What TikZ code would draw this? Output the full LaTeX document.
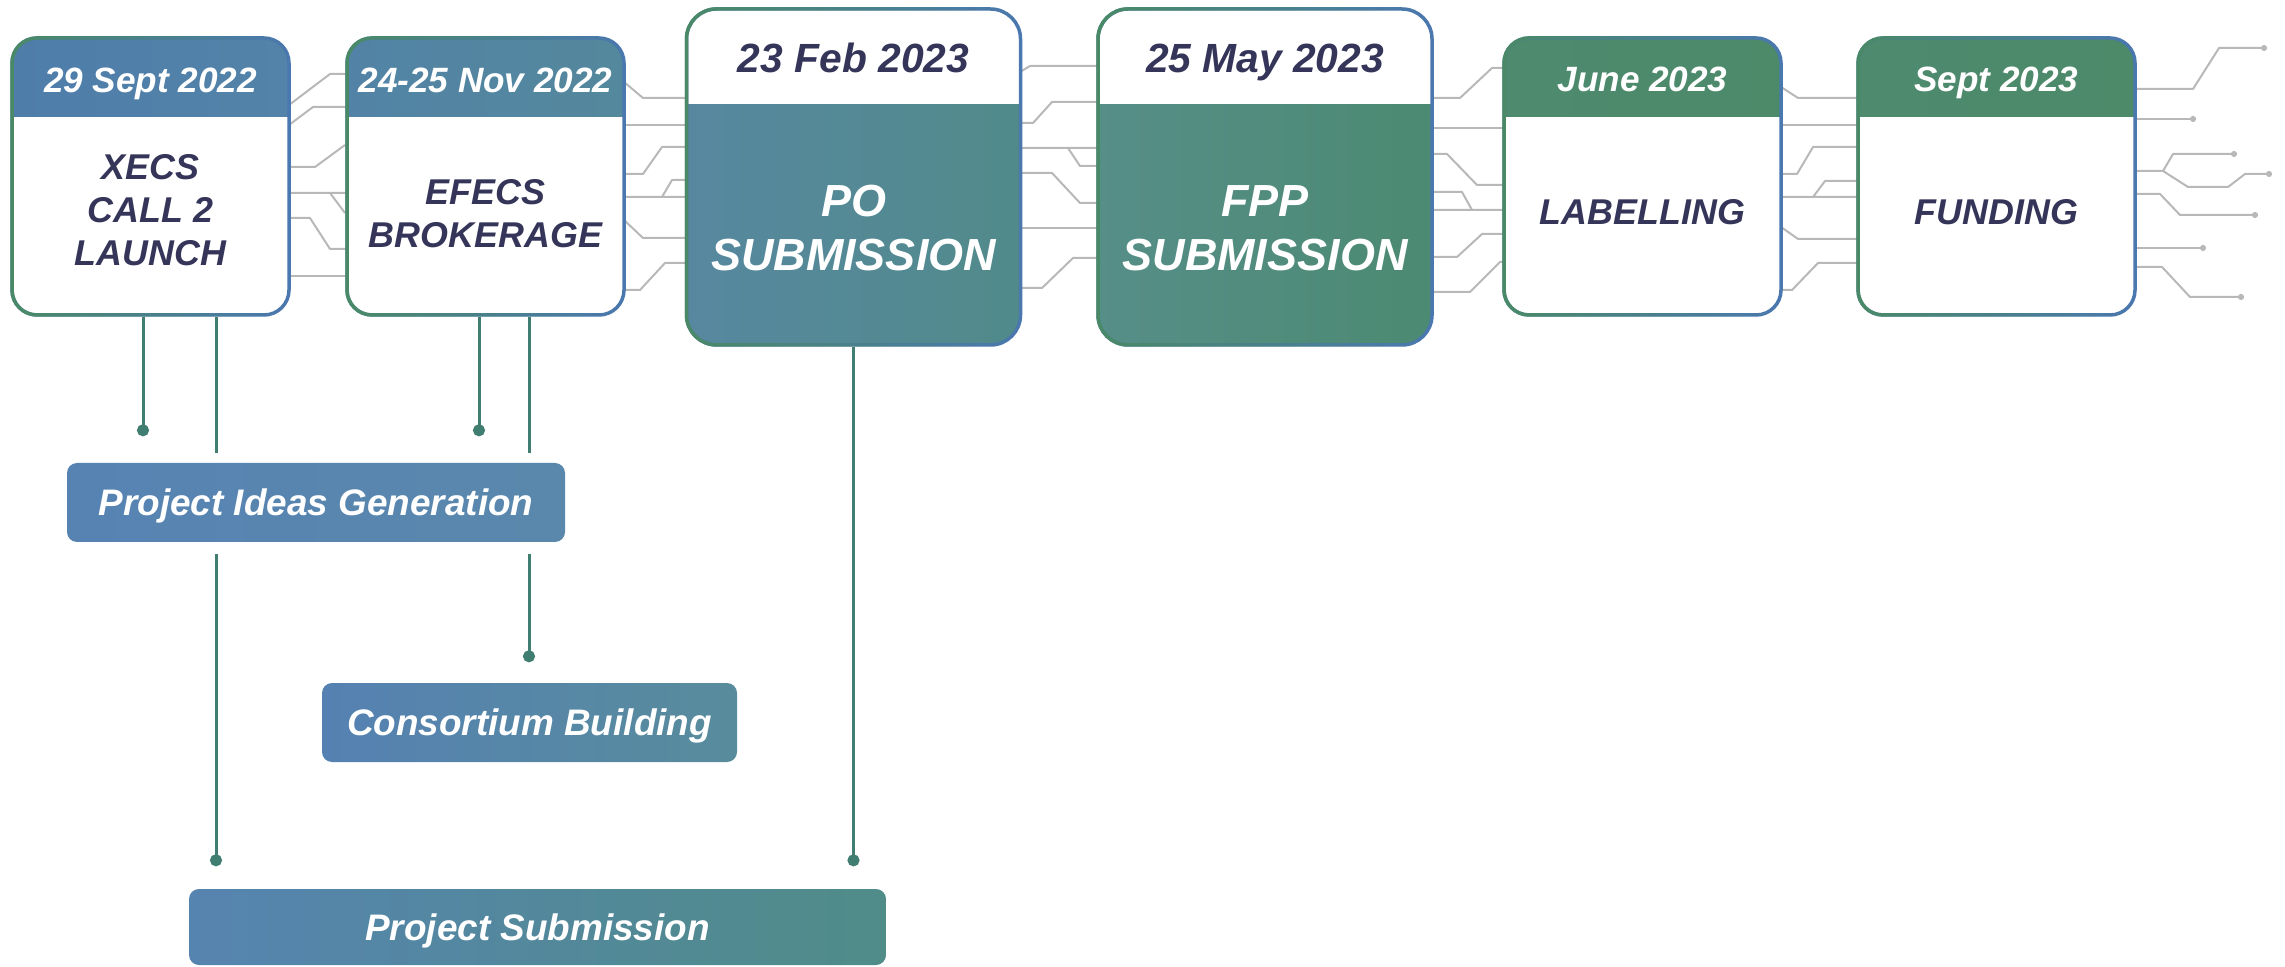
\documentclass[tikz,border=0pt]{standalone}
\usepackage{fontspec}
\setmainfont{Liberation Sans}
\usetikzlibrary{arrows.meta,fadings}

\definecolor{navy}{HTML}{35355A}
\definecolor{edgeblue}{HTML}{4B78B0}
\definecolor{edgegreen}{HTML}{4A8A66}
\definecolor{linkgreen}{HTML}{3F7E70}
\definecolor{tracegray}{HTML}{B8B8B8}
\definecolor{xecsL}{HTML}{4E7DAA}
\definecolor{xecsR}{HTML}{5383A8}
\definecolor{efecsL}{HTML}{5283A6}
\definecolor{efecsR}{HTML}{54889C}
\definecolor{poL}{HTML}{5788A0}
\definecolor{poR}{HTML}{518A8A}
\definecolor{fppL}{HTML}{568E88}
\definecolor{fppR}{HTML}{4C8A72}
\definecolor{greenL}{HTML}{4E8A6E}
\definecolor{greenR}{HTML}{4C8A6A}
\definecolor{pigL}{HTML}{5783B3}
\definecolor{pigR}{HTML}{5A88AC}
\definecolor{cbL}{HTML}{5581B2}
\definecolor{cbR}{HTML}{588C9C}
\definecolor{psL}{HTML}{5684B0}
\definecolor{psR}{HTML}{508C88}

\begin{document}
\begin{tikzpicture}[x=0.1mm, y=-0.1mm, line join=round]
        \tikzstyle{box}=[rectangle, rounded corners=2.5mm, minimum width=27.7mm, minimum height=27.7mm, inner sep=0pt, fill=white, draw=edgeblue, line width=0.35mm, postaction={draw=edgegreen, line width=0.35mm, path fading=east},
            path picture={\shade[sharp corners, #1] (path picture bounding box.north west) rectangle ([yshift=-7.9mm]path picture bounding box.north east);}]
        \tikzstyle{bigbox}=[rectangle, rounded corners=3mm, minimum width=33.4mm, minimum height=33.6mm, inner sep=0pt, fill=white, draw=edgeblue, line width=0.35mm, postaction={draw=edgegreen, line width=0.35mm, path fading=east},
            path picture={\shade[sharp corners, #1] ([yshift=-9.6mm]path picture bounding box.north west) rectangle (path picture bounding box.south east);}]
        \tikzstyle{task}=[rectangle, rounded corners=1mm, inner sep=0pt, minimum height=7.9mm, text=white, text height=2.6mm, text depth=0mm, font=\fontsize{10.5}{12}\selectfont\bfseries\itshape]
        \tikzstyle{date}=[anchor=base, text=white, font=\fontsize{10}{12}\selectfont\bfseries\itshape]
        \tikzstyle{bigdate}=[anchor=base, text=navy, font=\fontsize{11.6}{13}\selectfont\bfseries\itshape]
        \tikzstyle{what}=[align=center, text=navy, font=\fontsize{10.2}{12.3}\selectfont\bfseries\itshape]
        \tikzstyle{bigwhat}=[align=center, text=white, font=\fontsize{12.8}{15.4}\selectfont\bfseries\itshape]
        \tikzstyle{link}=[draw=linkgreen, line width=0.3mm, -{Circle[length=1.2mm]}]
        \tikzstyle{trace}=[draw=tracegray, line width=0.2mm]
        \tikzstyle{tracedot}=[trace, -{Circle[length=0.6mm]}]
        \useasboundingbox (0,0) rectangle (2285,967);

        % traces between the milestones
        \draw[trace] (289,105) -- (330,74) -- (347,74);
        \draw[trace] (289,125) -- (313,107) -- (347,107);
        \draw[trace] (289,167) -- (315,167) -- (345,145);
        \draw[trace] (289,193) -- (347,193) (330,193) -- (345,213);
        \draw[trace] (289,218) -- (310,218) -- (330,249) -- (347,249);
        \draw[trace] (289,276) -- (347,276);
        \draw[trace] (624,82) -- (643,98) -- (687,98);
        \draw[trace] (624,125) -- (687,125);
        \draw[trace] (624,174) -- (643,174) -- (662,147) -- (687,147);
        \draw[trace] (624,197) -- (687,197) (662,197) -- (672,180) -- (687,180);
        \draw[trace] (624,220) -- (643,238) -- (687,238);
        \draw[trace] (624,290) -- (640,290) -- (665,263) -- (687,263);
        \draw[trace] (1020,72) -- (1030,66) -- (1098,66);
        \draw[trace] (1020,123) -- (1033,123) -- (1052,102) -- (1098,102);
        \draw[trace] (1020,148) -- (1098,148) (1068,148) -- (1080,166) -- (1098,166);
        \draw[trace] (1020,173) -- (1052,173) -- (1080,203) -- (1098,203);
        \draw[trace] (1020,228) -- (1098,228);
        \draw[trace] (1020,288) -- (1042,288) -- (1073,258) -- (1098,258);
        \draw[trace] (1432,98) -- (1460,98) -- (1492,68) -- (1504,68);
        \draw[trace] (1432,128) -- (1504,128);
        \draw[trace] (1432,154) -- (1447,154) -- (1477,185) -- (1504,185);
        \draw[trace] (1432,210) -- (1504,210) (1432,192) -- (1462,192) -- (1472,210);
        \draw[trace] (1432,257) -- (1457,257) -- (1482,234) -- (1504,234);
        \draw[trace] (1432,292) -- (1470,292) -- (1500,262) -- (1504,262);
        \draw[trace] (1781,87) -- (1798,98) -- (1858,98);
        \draw[trace] (1781,125) -- (1858,125);
        \draw[trace] (1781,174) -- (1797,174) -- (1813,147) -- (1858,147);
        \draw[trace] (1781,197) -- (1858,197) (1813,197) -- (1825,181) -- (1858,181);
        \draw[trace] (1781,227) -- (1798,239) -- (1858,239);
        \draw[trace] (1781,290) -- (1792,290) -- (1818,263) -- (1858,263);
        \draw[tracedot] (2135,89) -- (2193,89) -- (2219,48) -- (2267,48);
        \draw[tracedot] (2135,119) -- (2196,119);
        \draw[tracedot] (2135,171) -- (2163,171) -- (2173,154) -- (2237,154);
        \draw[tracedot] (2163,171) -- (2188,187) -- (2228,187) -- (2245,174) -- (2272,174);
        \draw[tracedot] (2135,194) -- (2160,194) -- (2180,215) -- (2258,215);
        \draw[tracedot] (2135,248) -- (2206,248);
        \draw[tracedot] (2135,267) -- (2162,267) -- (2190,297) -- (2244,297);

        % milestones
        \node[box={left color=xecsL, right color=xecsR}] (xecs) at (150.5,176.5) {};
        \node[date] (xecs-date) at (150.5,93) {29 Sept 2022};
        \node[what] (xecs-text) at (150.5,210) {XECS\\CALL 2\\LAUNCH};
        \node[box={left color=efecsL, right color=efecsR}] (efecs) at (485.5,176.5) {};
        \node[date] (efecs-date) at (485.5,93) {24-25 Nov 2022};
        \node[what] (efecs-text) at (485.5,214) {EFECS\\BROKERAGE};
        \node[bigbox={left color=poL, right color=poR}] (po) at (853.5,177) {};
        \node[bigdate] (po-date) at (853.5,73) {23 Feb 2023};
        \node[bigwhat] (po-text) at (853.5,228) {PO\\SUBMISSION};
        \node[bigbox={left color=fppL, right color=fppR}] (fpp) at (1265,177) {};
        \node[bigdate] (fpp-date) at (1265,73) {25 May 2023};
        \node[bigwhat] (fpp-text) at (1265,228) {FPP\\SUBMISSION};
        \node[box={left color=greenL, right color=greenR}] (labelling) at (1642.5,176.5) {};
        \node[date] (labelling-date) at (1642.5,92) {June 2023};
        \node[what] (labelling-text) at (1642.5,212) {LABELLING};
        \node[box={left color=greenL, right color=greenR}] (funding) at (1996.5,176.5) {};
        \node[date] (funding-date) at (1996.5,92) {Sept 2023};
        \node[what] (funding-text) at (1996.5,212) {FUNDING};

        % activities
        \node[task, minimum width=49.8mm, left color=pigL, right color=pigR] (pig) at (316,502.5) {Project Ideas Generation};
        \node[task, minimum width=41.5mm, left color=cbL, right color=cbR] (cb) at (529.5,722.5) {Consortium Building};
        \node[task, minimum width=69.7mm, minimum height=7.6mm, left color=psL, right color=psR] (ps) at (537.5,927) {Project Submission};

        \draw[link] (xecs.south -| 143,0) -- ([yshift=2.6mm]pig.north -| 143,0);
        \draw[link] (xecs.south -| 216,0) -- ([yshift=0.9mm]pig.north -| 216,0) ([yshift=-1.1mm]pig.south -| 216,0) -- ([yshift=2.2mm]ps.north -| 216,0);
        \draw[link] (efecs.south -| 479,0) -- ([yshift=2.6mm]pig.north -| 479,0);
        \draw[link] (efecs.south -| 529,0) -- ([yshift=0.9mm]pig.north -| 529,0) ([yshift=-1.1mm]pig.south -| 529,0) -- ([yshift=2mm]cb.north -| 529,0);
        \draw[link] (po.south) -- ([yshift=2.2mm]ps.north -| po.south);
    \end{tikzpicture}
\end{document}
